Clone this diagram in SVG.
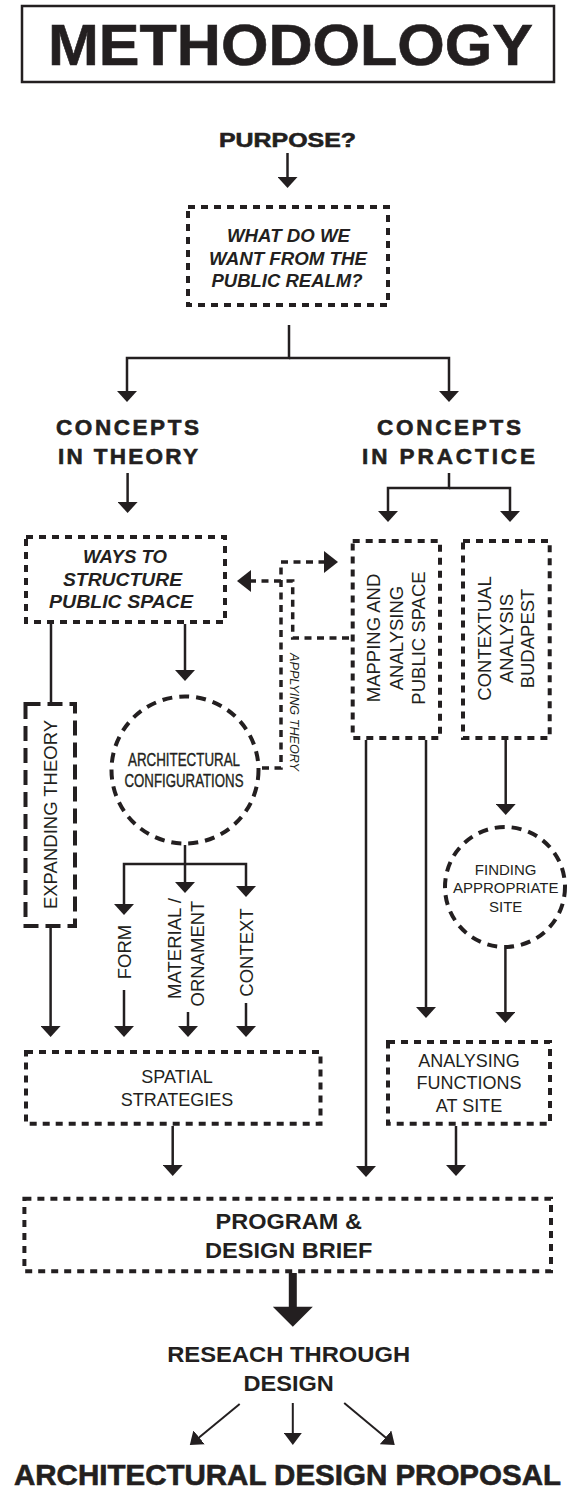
<svg xmlns="http://www.w3.org/2000/svg" width="567" height="1493" viewBox="0 0 567 1493">
<style>
text{font-family:"Liberation Sans",Arial,Helvetica,sans-serif;fill:#231f20}
.h{font-weight:bold;stroke:#231f20;stroke-width:0.6}
.b{font-weight:bold}
.bi{font-weight:bold;font-style:italic}
.r{font-size:18.5px}
.cond{stroke:#231f20;stroke-width:0.4}
.box{fill:none;stroke:#231f20;stroke-width:4;stroke-dasharray:7 6}
.long{stroke-dasharray:15 7}
.circ{fill:none;stroke:#231f20;stroke-width:4;stroke-dasharray:10 7}
.ln{fill:none;stroke:#231f20;stroke-width:2.5;marker-end:url(#a)}
.plain{fill:none;stroke:#231f20;stroke-width:2.5}
.thin{fill:none;stroke:#231f20;stroke-width:2;marker-end:url(#s)}
.dl{fill:none;stroke:#231f20;stroke-width:3.5;stroke-dasharray:7 5.5}
.fill{fill:#231f20}
</style>
<defs>
<marker id="a" viewBox="0 0 11 20" refX="3" refY="10" markerWidth="11" markerHeight="20" markerUnits="userSpaceOnUse" orient="auto"><path d="M0,0 L11,10 L0,20 z" fill="#231f20"/></marker>
<marker id="s" viewBox="0 0 12 18" refX="4" refY="9" markerWidth="12" markerHeight="18" markerUnits="userSpaceOnUse" orient="auto"><path d="M0,0 L12,9 L0,18 z" fill="#231f20"/></marker>
</defs>
<rect width="567" height="1493" fill="#fff"/>

<g id="title">
<rect x="22" y="6" width="532" height="76" fill="none" stroke="#231f20" stroke-width="2.5"/>
<text x="48" y="65" font-size="58" class="h" stroke-width="1" textLength="485" lengthAdjust="spacingAndGlyphs">METHODOLOGY</text>
</g>

<g id="purpose">
<text x="219" y="147" font-size="21" class="h" textLength="137" lengthAdjust="spacingAndGlyphs">PURPOSE?</text>
</g>

<g id="want">
<rect x="188" y="207" width="200" height="98" class="box"/>
<text x="227" y="241.7" font-size="18" class="bi" textLength="123" lengthAdjust="spacingAndGlyphs">WHAT DO WE</text>
<text x="209" y="265" font-size="18" class="bi" textLength="158" lengthAdjust="spacingAndGlyphs">WANT FROM THE</text>
<text x="211.5" y="286.7" font-size="18" class="bi" textLength="151" lengthAdjust="spacingAndGlyphs">PUBLIC REALM?</text>
</g>

<g id="theory">
<text x="56" y="435" font-size="22.5" class="h" textLength="143">CONCEPTS</text>
<text x="58" y="464" font-size="22.5" class="h" textLength="140">IN THEORY</text>
</g>

<g id="practice">
<text x="377" y="435" font-size="22.5" class="h" textLength="144">CONCEPTS</text>
<text x="362" y="464" font-size="22.5" class="h" textLength="173">IN PRACTICE</text>
</g>

<g id="ways">
<rect x="26" y="537" width="199" height="85" class="box"/>
<text x="83" y="563" font-size="18" class="bi" textLength="84" lengthAdjust="spacingAndGlyphs">WAYS TO</text>
<text x="63" y="585.5" font-size="18" class="bi" textLength="119" lengthAdjust="spacingAndGlyphs">STRUCTURE</text>
<text x="49" y="608" font-size="18" class="bi" textLength="144" lengthAdjust="spacingAndGlyphs">PUBLIC SPACE</text>
</g>

<g id="mapping">
<rect x="352.7" y="541" width="87.3" height="197" class="box"/>
<g class="r" text-anchor="middle">
<text transform="translate(380,638) rotate(-90)">MAPPING AND</text>
<text transform="translate(402.5,638) rotate(-90)">ANALYSING</text>
<text transform="translate(425,638) rotate(-90)">PUBLIC SPACE</text>
</g>
</g>

<g id="contextual">
<rect x="463" y="541" width="86.7" height="197" class="box"/>
<g class="r" text-anchor="middle">
<text transform="translate(491,638.5) rotate(-90)">CONTEXTUAL</text>
<text transform="translate(512.5,638.5) rotate(-90)">ANALYSIS</text>
<text transform="translate(534,638.5) rotate(-90)">BUDAPEST</text>
</g>
</g>

<g id="expanding">
<rect x="25.5" y="704" width="49.5" height="222" class="box long"/>
<text class="r" text-anchor="middle" transform="translate(57,814.5) rotate(-90)">EXPANDING THEORY</text>
</g>

<g id="configurations">
<circle cx="185" cy="770" r="73.5" class="circ"/>
<text x="128" y="765.7" font-size="18.5" class="cond" textLength="112" lengthAdjust="spacingAndGlyphs">ARCHITECTURAL</text>
<text x="124.5" y="787" font-size="18.5" class="cond" textLength="119" lengthAdjust="spacingAndGlyphs">CONFIGURATIONS</text>
</g>

<g id="applying-label">
<text font-size="12.5" font-style="italic" text-anchor="middle" transform="translate(290,712) rotate(90)" textLength="118" lengthAdjust="spacingAndGlyphs">APPLYING THEORY</text>
</g>

<g id="form">
<text class="r" text-anchor="middle" transform="translate(131,952) rotate(-90)">FORM</text>
</g>
<g id="material">
<text class="r" text-anchor="middle" transform="translate(181,948.5) rotate(-90)">MATERIAL /</text>
<text class="r" text-anchor="middle" transform="translate(204,953.5) rotate(-90)">ORNAMENT</text>
</g>
<g id="context">
<text class="r" text-anchor="middle" transform="translate(253,952.5) rotate(-90)">CONTEXT</text>
</g>

<g id="finding">
<circle cx="505" cy="887" r="60" class="circ"/>
<g font-size="15" text-anchor="middle">
<text x="505.7" y="875">FINDING</text>
<text x="505.7" y="893.3">APPROPRIATE</text>
<text x="505.7" y="912.3">SITE</text>
</g>
</g>

<g id="spatial">
<rect x="26" y="1052" width="294.5" height="71.7" class="box"/>
<g font-size="18" text-anchor="middle">
<text x="177" y="1083.3">SPATIAL</text>
<text x="177" y="1106">STRATEGIES</text>
</g>
</g>

<g id="analysing">
<rect x="388" y="1042" width="162" height="81.7" class="box"/>
<g font-size="18" text-anchor="middle">
<text x="469" y="1066.7">ANALYSING</text>
<text x="469" y="1089">FUNCTIONS</text>
<text x="469" y="1111.7">AT SITE</text>
</g>
</g>

<g id="program">
<rect x="24.4" y="1198.7" width="526.6" height="72.6" class="box"/>
<text x="215.5" y="1229" font-size="22" class="b" textLength="146.4" lengthAdjust="spacingAndGlyphs">PROGRAM &amp;</text>
<text x="205" y="1257.7" font-size="22" class="b" textLength="167.4" lengthAdjust="spacingAndGlyphs">DESIGN BRIEF</text>
</g>

<g id="research">
<text x="167.2" y="1362.3" font-size="22" class="b" textLength="243" lengthAdjust="spacingAndGlyphs">RESEACH THROUGH</text>
<text x="243.5" y="1390.7" font-size="22" class="b" textLength="90.4" lengthAdjust="spacingAndGlyphs">DESIGN</text>
</g>

<g id="proposal">
<text x="14" y="1484.5" font-size="29" class="h" textLength="547" lengthAdjust="spacingAndGlyphs">ARCHITECTURAL DESIGN PROPOSAL</text>
</g>

<g id="connectors">
<path class="ln" d="M287.5,153 V180"/>
<path class="ln" d="M289,325 V358 H127 V394"/>
<path class="ln" d="M289,358 H449 V394"/>
<path class="ln" d="M127.6,473 V505"/>
<path class="ln" d="M449,473 V488 H388 V514"/>
<path class="ln" d="M449,488 H510 V514"/>
<path class="plain" d="M51,624 V702"/>
<path class="ln" d="M185,624 V673"/>
<path class="ln" d="M185,845 V864 H124 V907"/>
<path class="ln" d="M185,864 V885"/>
<path class="ln" d="M185,864 H246 V889"/>
<path class="ln" d="M124,990 V1029"/>
<path class="ln" d="M188,1012 V1029"/>
<path class="ln" d="M246,1003 V1029"/>
<path class="ln" d="M50.6,928 V1029"/>
<path class="ln" d="M366,740 V1169"/>
<path class="ln" d="M426,740 V1010"/>
<path class="ln" d="M505.7,740 V807"/>
<path class="ln" d="M505.4,949 V1015"/>
<path class="ln" d="M456,1126 V1168"/>
<path class="ln" d="M172.7,1126 V1168"/>
<path class="dl" d="M262,768 H281 V562 H324"/>
<polygon class="fill" points="324,551 338,562 324,573"/>
<path class="dl" d="M349,638 H292.7 V581 H251"/>
<polygon class="fill" points="251,570 237,581 251,592"/>
<path d="M292.8,1273 V1308" stroke="#231f20" stroke-width="8" fill="none"/>
<polygon class="fill" points="272.8,1306.7 312.8,1306.7 292.8,1326.7"/>
<path class="thin" d="M239.7,1404 L196,1439.9"/>
<path class="thin" d="M292.8,1403 V1437"/>
<path class="thin" d="M344.2,1403 L388.6,1439.9"/>
</g>
</svg>
